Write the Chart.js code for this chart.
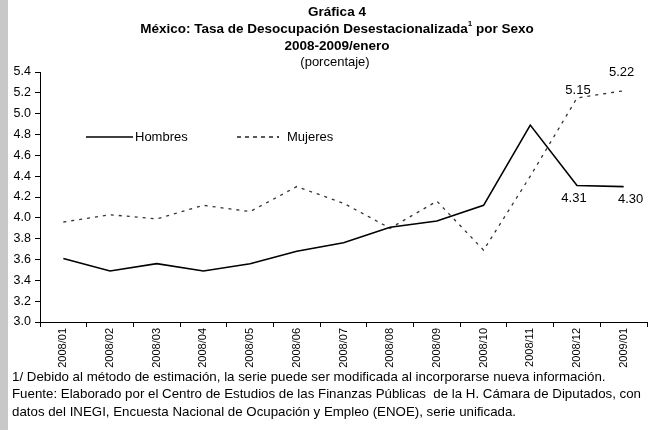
<!DOCTYPE html>
<html>
<head>
<meta charset="utf-8">
<script src="https://cdn.jsdelivr.net/npm/chart.js@4/dist/chart.umd.min.js"></script>
<style>
  html, body { margin: 0; padding: 0; background: #fff; }
  #wrap { position: relative; width: 648px; height: 430px; }
  #wrap:before { content: ""; position: absolute; left: 0; top: 0; bottom: 0; width: 8px; background: #c8c8c8; }
</style>
</head>
<body>
<div id="wrap"><canvas id="chart" width="648" height="430"></canvas></div>
<script>
(function () {
  "use strict";

  /* ── data ── */
  var MONTHS = ["2008/01", "2008/02", "2008/03", "2008/04", "2008/05", "2008/06", "2008/07",
                "2008/08", "2008/09", "2008/10", "2008/11", "2008/12", "2009/01"];
  var HOMBRES = [3.61, 3.49, 3.56, 3.49, 3.56, 3.68, 3.76, 3.91, 3.97, 4.12, 4.89, 4.31, 4.30];
  var MUJERES = [3.96, 4.03, 3.99, 4.12, 4.06, 4.30, 4.14, 3.90, 4.16, 3.69, 4.40, 5.15, 5.22];
  var Y_MIN = 3.0, Y_MAX = 5.4, Y_STEP = 0.2;

  var FOOTNOTES = [
    "1/ Debido al método de estimación, la serie puede ser modificada al incorporarse nueva información.",
    "Fuente: Elaborado por el Centro de Estudios de las Finanzas Públicas  de la H. Cámara de Diputados, con",
    "datos del INEGI, Encuesta Nacional de Ocupación y Empleo (ENOE), serie unificada."
  ];

  var FONT = "Arial, 'Liberation Sans', sans-serif";

  /* ── titles, legend, value labels, footnotes ── */
  var decorations = {
    id: "decorations",
    afterDatasetsDraw: function (chart) {
      var ctx = chart.ctx;
      ctx.save();
      ctx.fillStyle = "#000";
      ctx.textBaseline = "middle";

      // titles
      var cx = 337;
      ctx.textAlign = "center";
      ctx.font = "bold 13.5px " + FONT;
      ctx.fillText("Gráfica 4", cx, 12);
      ctx.fillText("2008-2009/enero", cx, 46);
      var t2 = "México: Tasa de Desocupación Desestacionalizada";
      var t3 = " por Sexo";
      ctx.font = "bold 8px " + FONT;
      var wSup = ctx.measureText("1").width;
      ctx.font = "bold 13.5px " + FONT;
      var w2 = ctx.measureText(t2).width, w3 = ctx.measureText(t3).width;
      var x0 = cx - (w2 + wSup + w3) / 2;
      ctx.textAlign = "left";
      ctx.fillText(t2, x0, 29);
      ctx.fillText(t3, x0 + w2 + wSup, 29);
      ctx.font = "bold 8px " + FONT;
      ctx.fillText("1", x0 + w2, 24);
      ctx.font = "13px " + FONT;
      ctx.textAlign = "center";
      ctx.fillText("(porcentaje)", cx - 2, 62);

      // legend
      ctx.strokeStyle = "#000";
      ctx.lineWidth = 1.5;
      ctx.beginPath(); ctx.moveTo(86, 137); ctx.lineTo(133, 137); ctx.stroke();
      ctx.setLineDash([4, 4]);
      ctx.lineWidth = 1.3;
      ctx.beginPath(); ctx.moveTo(237, 137); ctx.lineTo(279, 137); ctx.stroke();
      ctx.setLineDash([]);
      ctx.textAlign = "left";
      ctx.fillText("Hombres", 135, 137);
      ctx.fillText("Mujeres", 287, 137);

      // value labels on the last two months
      var xs = chart.scales.x, ys = chart.scales.y;
      ctx.textAlign = "center";
      function lbl(arr, i, dx, dy) {
        ctx.fillText(arr[i].toFixed(2), xs.getPixelForValue(i) + dx, ys.getPixelForValue(arr[i]) + dy);
      }
      lbl(MUJERES, 11, 1, -8);
      lbl(MUJERES, 12, -2, -18);
      lbl(HOMBRES, 11, -3, 13);
      lbl(HOMBRES, 12, 7, 13);

      // footnotes
      ctx.textAlign = "left";
      ctx.font = "13.3px " + FONT;
      FOOTNOTES.forEach(function (line, i) {
        ctx.fillText(line, 12, 377 + i * 17.5);
      });
      ctx.restore();
    }
  };

  new Chart(document.getElementById("chart").getContext("2d"), {
    type: "line",
    data: {
      labels: MONTHS,
      datasets: [
        {
          label: "Hombres",
          data: HOMBRES,
          borderColor: "#000",
          borderWidth: 1.6,
          pointRadius: 0,
          tension: 0,
        },
        {
          label: "Mujeres",
          data: MUJERES,
          borderColor: "#333",
          borderWidth: 1.3,
          borderDash: [3, 5],
          pointRadius: 0,
          tension: 0,
        },
      ],
    },
    options: {
      responsive: false,
      animation: false,
      layout: { padding: { top: 72, right: 1, left: 0, bottom: 0 } },
      plugins: {
        legend: { display: false },
        title: { display: false },
        tooltip: { enabled: false },
      },
      scales: {
        x: {
          offset: true,
          grid: { display: true, offset: true, drawOnChartArea: false, drawTicks: true, tickLength: 5, color: "#000" },
          border: { display: true, color: "#000", width: 1 },
          ticks: { color: "#000", font: { family: FONT, size: 11 }, minRotation: 90, maxRotation: 90, padding: 1, autoSkip: false },
          afterFit: function (s) { s.height = 108; },
        },
        y: {
          min: Y_MIN,
          max: Y_MAX,
          grid: { display: true, drawOnChartArea: false, drawTicks: true, tickLength: 5, color: "#000" },
          border: { display: true, color: "#000", width: 1 },
          ticks: {
            stepSize: Y_STEP,
            color: "#000",
            font: { family: FONT, size: 12.5 },
            padding: 4,
            callback: function (v) { return Number(v).toFixed(1); },
          },
          afterFit: function (s) { s.width = 40; },
        },
      },
    },
    plugins: [decorations],
  });
})();
</script>
</body>
</html>
